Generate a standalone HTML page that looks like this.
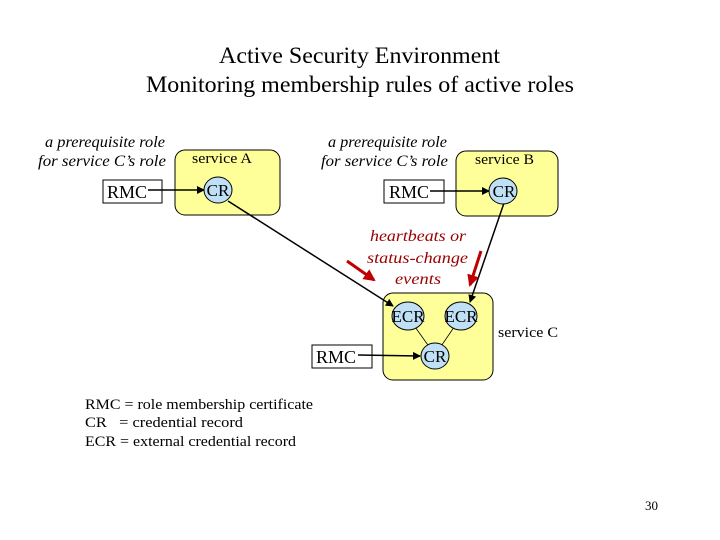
<!DOCTYPE html>
<html><head><style>
html,body{margin:0;padding:0;background:#fff;width:720px;height:540px;overflow:hidden}
svg{display:block}
text{font-family:"Liberation Serif",serif}
</style></head><body>
<svg width="720" height="540" viewBox="0 0 720 540" xmlns="http://www.w3.org/2000/svg">
<defs>
<marker id="a" markerWidth="8" markerHeight="8" refX="7" refY="4" orient="auto" markerUnits="userSpaceOnUse"><path d="M0,0 L8,4 L0,8 z" fill="#000"/></marker>
<marker id="r" markerWidth="12" markerHeight="12" refX="10" refY="6" orient="auto" markerUnits="userSpaceOnUse"><path d="M0,0 L12,6 L0,12 z" fill="#c00000"/></marker>
</defs>
<text x="219" y="63" font-size="23" textLength="281" lengthAdjust="spacingAndGlyphs">Active Security Environment</text>
<text x="146" y="92" font-size="23" textLength="428" lengthAdjust="spacingAndGlyphs">Monitoring membership rules of active roles</text>

<g font-size="16" font-style="italic">
<text x="45" y="147" textLength="120" lengthAdjust="spacingAndGlyphs">a prerequisite role</text>
<text x="38" y="166" textLength="128" lengthAdjust="spacingAndGlyphs">for service C’s role</text>
<text x="328" y="147" textLength="119" lengthAdjust="spacingAndGlyphs">a prerequisite role</text>
<text x="321" y="166" textLength="127" lengthAdjust="spacingAndGlyphs">for service C’s role</text>
</g>

<rect x="175" y="150" width="105" height="65" rx="10" fill="#ffff99" stroke="#000"/>
<rect x="456" y="151" width="102" height="65" rx="10" fill="#ffff99" stroke="#000"/>
<rect x="383" y="293" width="110" height="87" rx="10" fill="#ffff99" stroke="#000"/>
<text x="192" y="163" font-size="15" textLength="60" lengthAdjust="spacingAndGlyphs">service A</text>
<text x="475" y="164" font-size="15" textLength="59" lengthAdjust="spacingAndGlyphs">service B</text>
<text x="498" y="337" font-size="15" textLength="60" lengthAdjust="spacingAndGlyphs">service C</text>

<rect x="103" y="180" width="59" height="23" fill="#fff" stroke="#000"/>
<rect x="384" y="180" width="60" height="23" fill="#fff" stroke="#000"/>
<rect x="312" y="345" width="60" height="23" fill="#fff" stroke="#000"/>
<g font-size="18">
<text x="107" y="198">RMC</text>
<text x="389" y="198">RMC</text>
<text x="316" y="363">RMC</text>
</g>

<line x1="408" y1="317" x2="435" y2="355" stroke="#000" stroke-width="0.8"/>
<line x1="461" y1="317" x2="435" y2="355" stroke="#000" stroke-width="0.8"/>

<line x1="148" y1="190" x2="204" y2="190" stroke="#000" stroke-width="1.5" marker-end="url(#a)"/>
<line x1="430" y1="191" x2="489" y2="191" stroke="#000" stroke-width="1.5" marker-end="url(#a)"/>
<line x1="358" y1="355" x2="420" y2="356" stroke="#000" stroke-width="1.5" marker-end="url(#a)"/>
<line x1="228" y1="201" x2="393" y2="306" stroke="#000" stroke-width="1.5" marker-end="url(#a)"/>
<line x1="504" y1="203" x2="470" y2="302" stroke="#000" stroke-width="1.5" marker-end="url(#a)"/>

<g fill="#bfe0f5" stroke="#000">
<ellipse cx="218" cy="190" rx="14" ry="13"/>
<ellipse cx="503" cy="191" rx="14" ry="13"/>
<ellipse cx="408" cy="316" rx="16" ry="14"/>
<ellipse cx="461" cy="316" rx="16" ry="14"/>
<ellipse cx="435" cy="356" rx="14" ry="13"/>
</g>
<g font-size="17" text-anchor="middle">
<text x="218" y="196">CR</text>
<text x="504" y="197">CR</text>
<text x="408" y="322">ECR</text>
<text x="461" y="322">ECR</text>
<text x="435" y="362">CR</text>
</g>

<g font-size="16" font-style="italic" fill="#990000">
<text x="370" y="241" textLength="96" lengthAdjust="spacingAndGlyphs">heartbeats or</text>
<text x="367" y="263" textLength="101" lengthAdjust="spacingAndGlyphs">status-change</text>
<text x="395" y="284" textLength="46" lengthAdjust="spacingAndGlyphs">events</text>
</g>
<line x1="347" y1="261" x2="374" y2="280" stroke="#c00000" stroke-width="3" marker-end="url(#r)"/>
<line x1="481" y1="251" x2="470" y2="285" stroke="#c00000" stroke-width="3" marker-end="url(#r)"/>

<g font-size="15">
<text x="85" y="409" textLength="228" lengthAdjust="spacingAndGlyphs">RMC = role membership certificate</text>
<text x="85" y="427" textLength="158" lengthAdjust="spacingAndGlyphs">CR&#160;&#160;&#160;= credential record</text>
<text x="85" y="446" textLength="211" lengthAdjust="spacingAndGlyphs">ECR = external credential record</text>
</g>
<text x="645" y="510" font-size="13">30</text>
</svg>
</body></html>
